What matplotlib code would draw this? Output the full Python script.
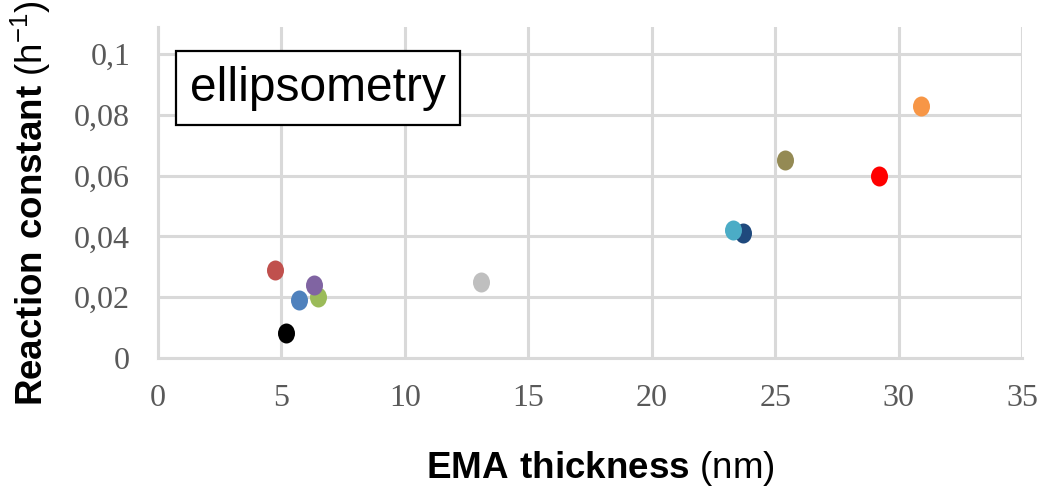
import matplotlib
matplotlib.use('Agg')
import matplotlib.pyplot as plt
from matplotlib.markers import MarkerStyle
from matplotlib.transforms import Affine2D

# data
thickness = [5.2, 4.75, 6.5, 5.7, 6.3, 13.1, 23.7, 23.3, 25.4, 29.2, 30.9]
rate = [0.0082, 0.029, 0.020, 0.019, 0.024, 0.025, 0.041, 0.042, 0.065, 0.060, 0.083]
colors = ['#000000', '#C0504D', '#9BBB59', '#4F81BD', '#8064A2', '#BFBFBF',
          '#1F497D', '#4BACC6', '#948A54', '#FF0000', '#F79646']

xticks = [0, 5, 10, 15, 20, 25, 30, 35]
yticks = [0, 0.02, 0.04, 0.06, 0.08, 0.1]
ytick_labels = ['0', '0,02', '0,04', '0,06', '0,08', '0,1']

plt.rcParams['mathtext.fontset'] = 'custom'
plt.rcParams['mathtext.rm'] = 'Liberation Sans'
plt.rcParams['mathtext.bf'] = 'Liberation Sans:bold'

fig = plt.figure(figsize=(10.4, 4.9), dpi=100)
ax = fig.add_axes([0.1519, 0.2694, 0.8308, 0.6755])

grid = '#D9D9D9'
ax.set_xlim(0, 35)
ax.set_ylim(0, 0.1089)
ax.set_xticks(xticks)
ax.set_yticks(yticks)
ax.set_yticklabels(ytick_labels)
ax.grid(True, color=grid, linewidth=2.2, zorder=0)
ax.set_axisbelow(True)
for s in ['top', 'right']:
    ax.spines[s].set_visible(False)
for s in ['left', 'bottom']:
    ax.spines[s].set_color(grid)
    ax.spines[s].set_linewidth(2.2)
ax.tick_params(length=0, labelsize=23, labelcolor='#595959')
ax.tick_params(axis='x', pad=19)
ax.tick_params(axis='y', pad=20)
for lab in ax.get_xticklabels() + ax.get_yticklabels():
    lab.set_family('Liberation Serif')

ell = MarkerStyle('o', transform=Affine2D().scale(0.85, 1.0))
for x, y, c in zip(thickness, rate, colors):
    ax.plot(x, y, marker=ell, markersize=14.4, color=c, markeredgewidth=0,
            linestyle='none', zorder=3, clip_on=False)

fig.text(0.577, 0.004, r'$\mathbf{EMA\ thickness}$ (nm)', ha='center', va='bottom',
         fontsize=26.5, family='Liberation Sans')
fig.text(0.029, 0.585, r'$\mathbf{Reaction\ constant}$ (h$^{-1}$)', ha='center', va='center',
         rotation=90, fontsize=26.5, family='Liberation Sans')

fig.text(0.3058, 0.8204, 'ellipsometry', ha='center', va='center', fontsize=34.5,
         family='Liberation Sans',
         bbox=dict(boxstyle='square,pad=0.3', facecolor='white', edgecolor='black', linewidth=1.6))

fig.savefig('out.png', dpi=100)
